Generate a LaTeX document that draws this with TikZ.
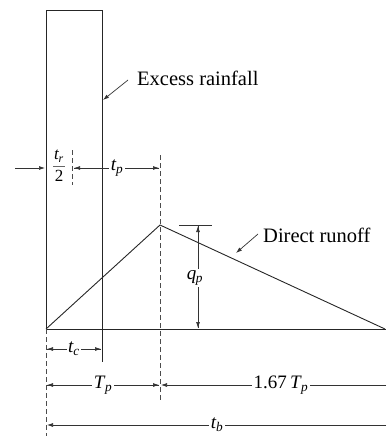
\documentclass[tikz,border=0pt]{standalone}
\usepackage{fontspec}
\setmainfont{Liberation Serif}
\usetikzlibrary{arrows.meta}
\newcommand\mysub[2]{\textit{#1}\textsubscript{\kern-0.5pt\textit{#2}}}
\begin{document}
\begin{tikzpicture}[x=1pt,y=-1pt,
  ln/.style={line width=0.9pt, black!85},
  tip/.style={-{Latex[length=6pt,width=4pt]}},
  dim/.style={line width=0.7pt, black!80},
  dsh/.style={line width=0.7pt, black!70, dash pattern=on 5pt off 3pt},
  lbl/.style={fill=white, inner sep=2pt, font=\fontsize{19}{21}\selectfont},
  txt/.style={font=\fontsize{20.5}{22}\selectfont, inner sep=0pt, anchor=west}]
\useasboundingbox (0,0) rectangle (386,436);
% key points
\coordinate (O) at (46,329);
\coordinate (P) at (160,225);
\coordinate (B) at (385,329);
\coordinate (BE) at (386,329);
\coordinate (TL) at (46,10);
\coordinate (TR) at (102,10);
\coordinate (RB) at (102,362);
% rainfall block
\draw[ln] (O) -- (TL) -- (TR) -- (RB);
% baseline and hydrograph
\draw[ln] (O) -- (BE);
\draw[ln] (O) -- (P) -- (B);
% dashed extension lines
\coordinate (D1) at (160,155); \coordinate (D2) at (160,400);
\draw[dsh] (D1) -- (D2);
\coordinate (L2) at (46,436);
\draw[dsh] (O) -- (L2);
\coordinate (C1) at (72,150); \coordinate (C2) at (72,185);
\draw[dsh] (C1) -- (C2);
% top dimension: tr/2 and tp
\coordinate (a0) at (15,168); \coordinate (a1) at (45,168);
\draw[dim,tip] (a0) -- (a1);
\node[inner sep=0pt, font=\fontsize{17}{19}\selectfont] (num) at (59,156) {\mysub{t}{r}};
\coordinate (f0) at (53,166); \coordinate (f1) at (65,166);
\draw[line width=0.5pt, black!60] (f0) -- (f1);
\node[inner sep=0pt, font=\fontsize{17}{19}\selectfont] (den) at (59,176) {2};
\coordinate (b0) at (74,168); \coordinate (b1) at (159,168);
\draw[dim,tip] (b0) -- (b1);
\draw[dim,tip] (b1) -- (b0);
\node[lbl] (tp) at (117,168) {\mysub{t}{p}};
% qp
\coordinate (q0) at (179,225); \coordinate (q1) at (212,225);
\draw[dim] (q0) -- (q1);
\coordinate (qa) at (198,226); \coordinate (qb) at (198,328);
\draw[dim,tip] (qa) -- (qb);
\draw[dim,tip] (qb) -- (qa);
\node[lbl] (qp) at (195,278) {\mysub{q}{p}};
% tc
\coordinate (c0) at (47,349); \coordinate (c1) at (101,349);
\draw[dim,tip] (c0) -- (c1);
\draw[dim,tip] (c1) -- (c0);
\node[lbl, inner sep=1pt] (tc) at (74,349) {\mysub{t}{c}};
% Tp and 1.67 Tp
\coordinate (t0) at (47,385); \coordinate (t1) at (159,385);
\draw[dim,tip] (t0) -- (t1);
\draw[dim,tip] (t1) -- (t0);
\node[lbl] (Tp) at (103,385) {\mysub{T}{p}};
\coordinate (s0) at (161,385); \coordinate (s1) at (386,385);
\draw[dim,tip] (s1) -- (s0);
\node[lbl] (Tp2) at (281,385) {1.67\,\mysub{T}{p}};
% tb
\coordinate (u0) at (47,425); \coordinate (u1) at (386,425);
\draw[dim,tip] (u1) -- (u0);
\node[lbl] (tb) at (217,425) {\mysub{t}{b}};
% labels with leaders
\node[txt] (ex) at (137,78) {Excess rainfall};
\coordinate (e0) at (128,80); \coordinate (e1) at (103,100);
\draw[dim,tip] (e0) -- (e1);
\node[txt] (dr) at (263,235) {Direct runoff};
\coordinate (r0) at (258,234); \coordinate (r1) at (236,253);
\draw[dim,tip] (r0) -- (r1);
\end{tikzpicture}
\end{document}
